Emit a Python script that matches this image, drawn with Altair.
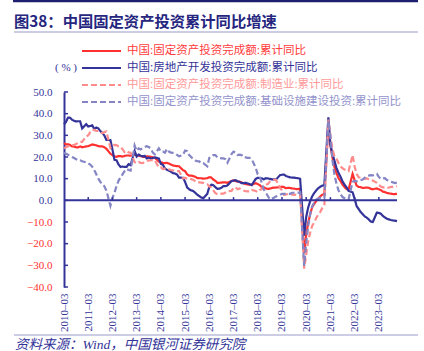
import altair as alt
import pandas as pd

# ---------------- data (cumulative YoY %, monthly, Jan missing as in source) ----------------
series_names = [
    "中国:固定资产投资完成额:累计同比",
    "中国:房地产开发投资完成额:累计同比",
    "中国:固定资产投资完成额:制造业:累计同比",
    "中国:固定资产投资完成额:基础设施建设投资:累计同比",
]

# months: 2010-03..2010-12, then Feb..Dec for 2011..2023
months = [(2010, m) for m in range(3, 13)] + [(y, m) for y in range(2011, 2024) for m in range(2, 13)]

fai = [
    26.4, 25.8, 25.9, 25.5, 24.9, 24.8, 24.5, 24.4, 24.9, 24.5,
    24.9, 25.0, 25.4, 25.8, 25.6, 25.4, 25.0, 24.9, 24.9, 24.5, 23.8,
    21.5, 20.9, 20.2, 20.1, 20.4, 20.4, 20.2, 20.5, 20.7, 20.7, 20.6,
    21.2, 20.9, 20.6, 20.4, 20.1, 20.1, 20.3, 20.2, 20.1, 19.9, 19.6,
    17.9, 17.6, 17.3, 17.2, 17.3, 17.0, 16.5, 16.1, 15.9, 15.8, 15.7,
    13.9, 13.5, 12.0, 11.4, 11.4, 11.2, 10.9, 10.3, 10.2, 10.2, 10.0,
    10.2, 10.7, 10.5, 9.6, 9.0, 8.1, 8.1, 8.2, 8.3, 8.3, 8.1,
    8.9, 9.2, 8.9, 8.6, 8.6, 8.3, 7.8, 7.5, 7.3, 7.2, 7.2,
    7.9, 7.5, 7.0, 6.1, 6.0, 5.5, 5.3, 5.4, 5.7, 5.9, 5.9,
    6.1, 6.3, 6.1, 5.6, 5.8, 5.7, 5.5, 5.4, 5.2, 5.2, 5.4,
    -24.5, -16.1, -10.3, -6.3, -3.1, -1.6, -0.3, 0.8, 1.8, 2.6, 2.9,
    35.0, 25.6, 19.9, 15.4, 12.6, 10.3, 8.9, 7.3, 6.1, 5.2, 4.9,
    12.2, 9.3, 6.8, 6.2, 6.1, 5.7, 5.8, 5.9, 5.8, 5.3, 5.1,
    5.5, 5.1, 4.7, 4.0, 3.8, 3.4, 3.2, 3.1, 2.9, 2.9, 3.0,
]

real_estate = [
    35.1, 36.2, 38.2, 38.1, 37.2, 36.7, 36.4, 36.5, 36.5, 33.2,
    35.2, 34.1, 34.3, 34.6, 32.9, 33.6, 33.2, 32.0, 31.1, 29.9, 27.9,
    27.8, 23.5, 18.7, 18.5, 16.6, 15.4, 15.6, 15.4, 15.4, 16.7, 16.2,
    22.8, 20.2, 21.1, 20.6, 20.3, 20.5, 19.3, 19.7, 19.2, 19.5, 19.8,
    19.3, 16.8, 16.4, 14.7, 14.1, 13.7, 13.2, 12.5, 12.4, 11.9, 10.5,
    10.4, 8.5, 6.0, 5.1, 4.6, 4.3, 3.5, 2.6, 2.0, 1.3, 1.0,
    3.0, 6.2, 7.2, 7.0, 6.1, 5.3, 5.4, 5.8, 6.6, 6.5, 6.9,
    8.9, 9.1, 9.3, 8.8, 8.5, 7.9, 7.9, 8.1, 7.8, 7.5, 7.0,
    9.9, 10.4, 10.3, 10.2, 9.7, 10.2, 10.1, 9.9, 9.7, 9.7, 9.5,
    11.6, 11.8, 11.9, 11.2, 10.9, 10.6, 10.5, 10.5, 10.3, 10.2, 9.9,
    -16.3, -7.7, -3.3, -0.3, 1.9, 3.4, 4.6, 5.6, 6.3, 6.8, 7.0,
    38.3, 25.6, 21.6, 18.3, 15.0, 12.7, 10.9, 8.8, 7.2, 6.0, 4.4,
    3.7, 0.7, -2.7, -4.0, -5.4, -6.4, -7.4, -8.0, -8.8, -9.8, -10.0,
    -5.7, -5.8, -6.2, -7.2, -7.9, -8.5, -8.8, -9.1, -9.3, -9.4, -9.6,
]

manufacturing = [
    24.0, 24.5, 25.0, 25.0, 25.5, 25.5, 26.0, 26.5, 27.0, 27.0,
    29.5, 30.0, 31.5, 32.5, 32.5, 32.0, 32.0, 31.5, 31.0, 31.5, 31.8,
    24.2, 25.4, 25.6, 25.5, 24.9, 24.7, 23.6, 22.3, 22.8, 22.1, 22.0,
    17.6, 17.2, 17.7, 17.3, 17.2, 17.9, 18.3, 18.3, 18.5, 18.6, 18.5,
    15.1, 15.2, 14.4, 14.6, 14.8, 14.3, 14.0, 13.8, 13.5, 13.5, 13.5,
    10.0, 10.4, 10.0, 10.1, 9.8, 9.5, 8.9, 8.3, 8.3, 8.2, 8.1,
    7.5, 6.4, 6.0, 4.6, 3.3, 2.9, 2.8, 3.1, 3.1, 3.6, 4.2,
    4.3, 5.8, 6.0, 5.1, 5.5, 4.9, 4.5, 4.2, 4.1, 4.1, 4.8,
    4.3, 3.8, 4.8, 5.2, 6.8, 7.3, 7.5, 8.7, 9.1, 9.5, 9.5,
    5.9, 4.6, 2.5, 2.7, 3.0, 3.3, 2.6, 2.5, 2.6, 2.5, 3.1,
    -31.5, -25.2, -18.8, -14.8, -11.7, -10.2, -8.1, -6.5, -5.3, -3.5, -2.2,
    37.3, 29.8, 23.8, 20.4, 19.2, 17.3, 15.7, 14.8, 14.2, 13.7, 13.5,
    20.9, 15.6, 12.2, 10.6, 10.4, 9.9, 10.0, 10.1, 9.7, 9.3, 9.1,
    8.1, 7.0, 6.4, 6.0, 6.0, 5.7, 5.9, 6.2, 6.2, 6.3, 6.5,
]

infrastructure = [
    22.0, 21.5, 21.0, 20.5, 20.0, 19.5, 19.0, 18.5, 18.5, 18.0,
    17.5, 17.0, 16.5, 15.5, 14.0, 12.0, 10.0, 8.5, 7.5, 6.5, 4.5,
    -2.5, 1.0, 3.5, 6.5, 9.0, 10.5, 12.0, 13.5, 14.5, 14.0, 13.7,
    25.3, 22.9, 24.0, 23.5, 24.2, 24.6, 25.0, 24.6, 24.0, 22.0, 21.2,
    24.0, 22.5, 22.5, 22.0, 23.7, 22.5, 22.0, 21.9, 21.7, 21.0, 20.3,
    21.0, 23.0, 22.7, 20.9, 20.0, 19.0, 18.4, 18.1, 18.0, 17.2, 17.2,
    15.7, 19.6, 19.9, 20.9, 20.9, 19.8, 19.7, 19.4, 19.4, 19.0, 17.4,
    21.3, 22.5, 22.0, 20.9, 21.1, 20.9, 19.8, 19.8, 19.6, 19.6, 19.0,
    15.0, 12.0, 11.0, 8.0, 5.0, 3.5, 2.0, 0.5, 0.8, 1.2, 1.8,
    2.5, 3.0, 3.0, 3.0, 3.0, 3.0, 3.5, 3.5, 3.6, 3.5, 3.8,
    -30.3, -19.7, -11.8, -6.3, -2.7, -1.0, 0.3, 0.9, 1.2, 1.0, 0.9,
    36.6, 29.7, 18.4, 11.8, 7.8, 4.6, 2.9, 1.5, 1.0, 0.5, 0.4,
    8.6, 9.0, 8.8, 9.0, 9.3, 9.6, 10.4, 11.2, 11.4, 11.6, 11.5,
    12.2, 10.8, 9.8, 10.1, 10.2, 9.4, 9.0, 8.6, 8.3, 8.0, 8.2,
]

y_ticks = [-40, -30, -20, -10, 0, 10, 20, 30, 40, 50]
x_tick_idx = list(range(0, 157, 12))  # every March, 2010-03 .. 2023-03

# ---------------- styling ----------------
NAVY = "#333399"
DARK = "#1f1f70"
RED = "#ff3030"
PINK = "#ff8c8c"
LAV = "#8585c5"
LEG_TXT = ["#ff3b3b", "#333399", "#ff9999", "#9393cc"]
line_colors = [RED, NAVY, PINK, LAV]
SERIF = "'Liberation Serif', 'Noto Sans CJK SC'"
CJK = "'Noto Sans CJK SC'"

W, H = 333, 195
PL, PT = 64, 92

rows = []
for name, vals in zip(series_names, [fai, real_estate, manufacturing, infrastructure]):
    for (yy, mm), v in zip(months, vals):
        rows.append({"idx": (yy - 2010) * 12 + (mm - 3), "value": v, "series": name})
df = pd.DataFrame(rows)

x_enc = alt.X(
    "idx:Q",
    scale=alt.Scale(domain=[0, 165], nice=False, zero=False),
    axis=alt.Axis(
        values=x_tick_idx,
        labelExpr="(2010 + floor(datum.value / 12)) + '–03'",
        labelAngle=270,
        labelFont="Liberation Serif",
        labelFontSize=11,
        labelColor=NAVY,
        labelOverlap=False,
        labelBound=False,
        domain=False,
        ticks=False,
        grid=False,
        labelPadding=6,
        title=None,
    ),
)
y_enc = alt.Y(
    "value:Q",
    scale=alt.Scale(domain=[-40, 50], nice=False, zero=False),
    axis=alt.Axis(
        values=y_ticks,
        format=".1f",
        labelColor={"condition": {"test": "datum.value < 0", "value": RED}, "value": NAVY},
        labelFont="Liberation Serif",
        labelFontSize=11,
        labelOverlap=False,
        labelBound=False,
        labelFlush=False,
        domain=True,
        domainColor=NAVY,
        domainWidth=2,
        ticks=False,
        tickSize=0,
        grid=False,
        labelPadding=12,
        title=None,
    ),
)

lines = alt.Chart(df).mark_line(strokeWidth=2.2).encode(
    x=x_enc,
    y=y_enc,
    color=alt.Color("series:N", scale=alt.Scale(domain=series_names, range=line_colors), legend=None),
    strokeDash=alt.StrokeDash(
        "series:N",
        scale=alt.Scale(domain=series_names, range=[[1, 0], [1, 0], [6, 3], [6, 3]]),
        legend=None,
    ),
    order=alt.Order("idx:Q"),
)

zero_line = alt.Chart(pd.DataFrame({"value": [0]})).mark_rule(color=NAVY, strokeWidth=2).encode(y=y_enc)

x_ticks = alt.Chart(
    pd.DataFrame({"idx": x_tick_idx[1:], "value": [0] * 13, "value2": [1.5] * 13})
).mark_rule(color=NAVY, strokeWidth=1.5).encode(x=x_enc, y=y_enc, y2="value2:Q")

y_tick_marks = alt.Chart(pd.DataFrame({"value": y_ticks})).mark_rule(color=NAVY, strokeWidth=1.5).encode(
    y=y_enc, x=alt.value(0), x2=alt.value(4)
)

one = pd.DataFrame({"a": [0]})

layers = [lines, zero_line, x_ticks, y_tick_marks]

# legend (manual)
leg_rows_y = [-41, -24, -7, 10]
dashes = [[1, 0], [1, 0], [6, 3], [6, 3]]
for i, name in enumerate(series_names):
    layers.append(
        alt.Chart(one).mark_rule(color=line_colors[i], strokeWidth=2.2, strokeDash=dashes[i]).encode(
            x=alt.value(18), x2=alt.value(57), y=alt.value(leg_rows_y[i])
        )
    )
    layers.append(
        alt.Chart(pd.DataFrame({"t": [name]})).mark_text(
            align="left", baseline="middle", font=SERIF, fontSize=11.5, color=LEG_TXT[i]
        ).encode(text="t:N", x=alt.value(63), y=alt.value(leg_rows_y[i]))
    )

layers.append(
    alt.Chart(pd.DataFrame({"t": ["( % )"]})).mark_text(
        align="left", baseline="middle", font="Liberation Serif", fontSize=11, color=NAVY
    ).encode(text="t:N", x=alt.value(-9), y=alt.value(-24))
)

# title & decorations
layers.append(
    alt.Chart(one).mark_rule(color=DARK, strokeWidth=2.5).encode(
        x=alt.value(-51), x2=alt.value(354), y=alt.value(-91)
    )
)
layers.append(
    alt.Chart(pd.DataFrame({"t": ["图38：中国固定资产投资累计同比增速"]})).mark_text(
        align="left", baseline="middle", font=CJK, fontSize=15.3, fontWeight="bold", color="#262680"
    ).encode(text="t:N", x=alt.value(-50), y=alt.value(-70))
)
layers.append(
    alt.Chart(one).mark_rule(color="#9999cc", strokeWidth=1.2).encode(
        x=alt.value(-50), x2=alt.value(354), y=alt.value(-60)
    )
)
layers.append(
    alt.Chart(one).mark_rule(color="#9999cc", strokeWidth=1.2).encode(
        x=alt.value(-50), x2=alt.value(354), y=alt.value(243)
    )
)
layers.append(
    alt.Chart(pd.DataFrame({"t": ["资料来源：Wind，中国银河证券研究院"]})).mark_text(
        align="left", baseline="middle", font=SERIF, fontSize=13.5, fontStyle="italic", color=NAVY
    ).encode(text="t:N", x=alt.value(-49), y=alt.value(253))
)

chart = (
    alt.layer(*layers)
    .properties(
        width=W,
        height=H,
        padding={"left": PL, "top": PT, "right": 424 - PL - W, "bottom": 351 - PT - H},
        autosize=alt.AutoSizeParams(type="none"),
        background="white",
    )
    .configure_view(stroke=None)
)

chart.save("out.html", embed_options={"renderer": "svg", "actions": False})
